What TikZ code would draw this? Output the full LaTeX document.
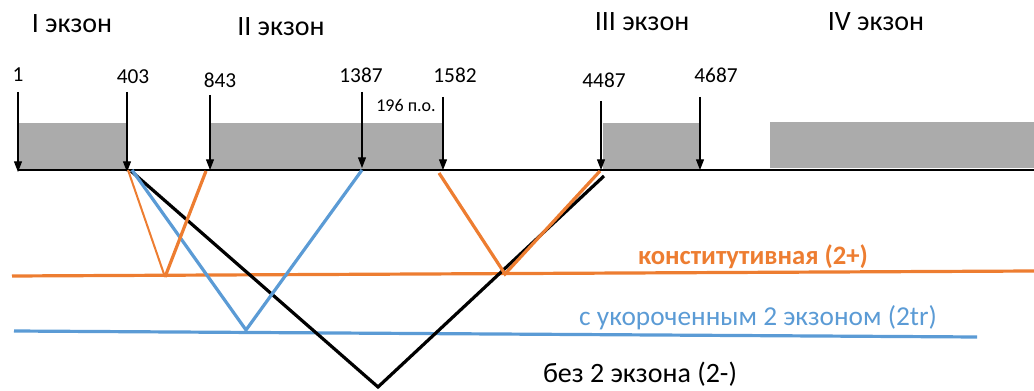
\documentclass[tikz,border=0pt]{standalone}
\usepackage{fontspec}
\setmainfont{Carlito}
\usetikzlibrary{arrows.meta}
\definecolor{ora}{HTML}{ED7D31}
\definecolor{blu}{HTML}{5B9BD5}
\definecolor{boxgray}{HTML}{ABABAB}
\tikzset{
  exonlbl/.style={inner sep=0pt, font=\fontsize{21}{25}\selectfont},
  numlbl/.style={inner sep=0pt, font=\fontsize{16}{19}\selectfont},
  smalllbl/.style={inner sep=0pt, font=\fontsize{13.5}{16}\selectfont},
  exbox/.style={fill=boxgray, draw=none},
  marker/.style={line width=0.8pt, -{Triangle[width=6pt,length=8pt]}},
  axis/.style={line width=1.1pt},
  oraline/.style={ora, line width=2.4pt},
  orathin/.style={ora, line width=1.5pt},
  bluline/.style={blu, line width=2.4pt},
  blkline/.style={black, line width=2.4pt},
  legend/.style={inner sep=0pt}
}
\begin{document}
\begin{tikzpicture}[x=0.75pt,y=-0.75pt]
\useasboundingbox (0,0) rectangle (1034,391);
% exon boxes
\fill[exbox] (18,123) rectangle (127,170);
\fill[exbox] (210,123) rectangle (443,170);
\fill[exbox] (603,123) rectangle (700,170);
\fill[exbox] (770,122) rectangle (1034,168);
% axis
\coordinate (axL) at (18,170);
\coordinate (axR) at (1034,170);
\draw[axis] (axL) -- (axR);
% exon labels
\node[exonlbl] (ex1) at (72,24) {I экзон};
\node[exonlbl] (ex2) at (281,27) {II экзон};
\node[exonlbl] (ex3) at (642,22) {III экзон};
\node[exonlbl] (ex4) at (876,22) {IV экзон};
% position labels
\node[numlbl] (n1) at (18,75) {1};
\node[numlbl] (n403) at (133,77) {403};
\node[numlbl] (n843) at (220,80) {843};
\node[numlbl] (n1387) at (361,75) {1387};
\node[numlbl] (n1582) at (455,75) {1582};
\node[smalllbl] (n196) at (406,105) {196 п.о.};
\node[numlbl] (n4487) at (604,80) {4487};
\node[numlbl] (n4687) at (716,75) {4687};
% marker tops and tips
\coordinate (t1) at (18,92);   \coordinate (p1) at (18,172);
\coordinate (t2) at (127,92);  \coordinate (p2) at (127,172);
\coordinate (t3) at (210,95);  \coordinate (p3) at (210,170);
\coordinate (t4) at (362,92);  \coordinate (p4) at (362,168);
\coordinate (t5) at (443,97);  \coordinate (p5) at (443,170);
\coordinate (t6) at (601,101); \coordinate (p6) at (601,170);
\coordinate (t7) at (700,97);  \coordinate (p7) at (700,170);
\foreach \i in {1,...,7} {\draw[marker] (t\i) -- (p\i);}
% isoform lines
\coordinate (oL) at (12,276);
\coordinate (oR) at (1034,271);
\coordinate (bL) at (14,331);
\coordinate (bR) at (977,337);
\draw[oraline] (oL) -- (oR);
\draw[bluline] (bL) -- (bR);
% splice junction coordinates
\coordinate (s403) at (128,170);
\coordinate (s843) at (206,171);
\coordinate (s1387) at (362,170);
\coordinate (s1582) at (439,173);
\coordinate (s4487) at (600,171);
\coordinate (vo1) at (165,277);
\coordinate (vo2) at (505,274);
\coordinate (vb) at (246,330);
\coordinate (vk) at (378,387);
% black (2-)
\draw[blkline] (131,171) -- (vk) -- (604,176);
% blue (2tr)
\draw[bluline] (132,170) -- (vb) -- (s1387);
% orange (2+)
\draw[orathin] (s403) -- (vo1);
\draw[oraline] (vo1) -- (s843);
\draw[oraline] (s1582) -- (vo2) -- (s4487);
% legend
\node[legend, ora, font=\fontsize{20}{24}\selectfont\bfseries] (l1) at (753,257) {конститутивная (2+)};
\node[legend, blu, font=\fontsize{20.5}{24}\selectfont] (l2) at (758,318) {с укороченным 2 экзоном (2tr)};
\node[legend, font=\fontsize{21}{25}\selectfont] (l3) at (640,374) {без 2 экзона (2-)};
\end{tikzpicture}
\end{document}
